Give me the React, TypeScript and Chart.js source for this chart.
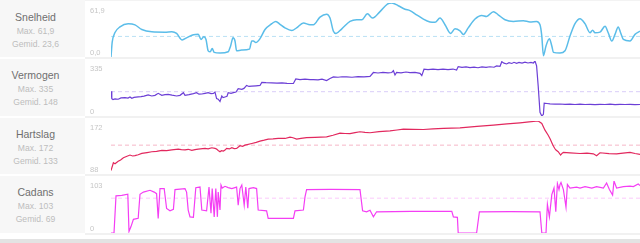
import { useEffect, useRef } from "react";
import { Chart, registerables } from "chart.js";

Chart.register(...registerables);

// time (min) / value pairs
const speedSeries: [number, number][] = [
  [0, 0], [0.3, 17], [1, 28], [2.25, 34.5], [4.3, 38], [6, 36.8], [7.7, 31.5], [10.2, 28.9], [13.5, 28.5], [15.2, 28.9],
  [16.4, 27], [17.8, 19.5], [18.9, 22], [20.6, 25.5], [21.8, 26.2], [22.5, 20], [23.2, 23.3], [23.75, 20], [24.3, 7], [24.8, 6],
  [25.3, 9.8], [25.8, 5.3], [27.25, 4.5], [29.3, 6], [29.9, 12.7], [30.5, 22], [31, 18.4], [31.4, 7.1], [32.7, 7.9], [34.6, 9],
  [35.2, 18.4], [35.6, 18.4], [36.2, 16.5], [37.25, 21], [38.5, 31.5], [40.2, 38.2], [41.2, 40.8], [42.25, 37.5], [43.5, 33.4], [45.2, 30.4],
  [46.4, 33.4], [48.1, 39], [49.75, 37], [50.6, 37], [52.25, 45.8], [53.9, 49], [54.75, 44.6], [55.6, 29.6], [56.25, 27], [57.7, 32.3],
  [59.75, 40.8], [61.4, 42.7], [62.7, 42.7], [64.1, 49.5], [65.4, 44.6], [67.25, 52], [69.1, 60.7], [70.2, 61.9], [71.8, 58.8], [73.5, 54.8],
  [74.75, 53.2], [76.4, 48.4], [78.1, 43.5], [79.75, 40.2], [81, 39.7], [82.25, 44.6], [83.5, 37], [84.9, 27], [86, 32.3], [87.25, 30],
  [88.1, 25.9], [89.3, 33.4], [91, 43.5], [92.7, 47.6], [93.9, 46.5], [95.6, 52], [96.8, 48.4], [98.5, 42.7], [100.6, 40.8], [103.1, 41.6],
  [104.75, 40.2], [106.4, 40.8], [107.25, 37], [107.7, 24], [108.1, 1.5], [108.75, 12.7], [109.6, 21], [110.2, 12.7], [110.6, 5.3], [112.25, 4.5],
  [113.5, 7.1], [114.75, 24], [116, 38.2], [117.25, 43.9], [118.5, 38.2], [119.75, 27.8], [120.4, 30.7], [121, 27.8], [122.25, 28.5], [123.5, 35.2],
  [124.3, 27.8], [125.2, 18.4], [126, 25.9], [126.8, 34.5], [127.4, 27.8], [128.1, 20.2], [129.75, 18.4], [131, 25.9], [132.25, 29.6],
];

const powerSeries: [number, number][] = [
  [0, 151], [0.2, 106], [0.5, 100], [1, 104], [1.8, 102], [2.5, 110], [3.5, 112], [4.25, 109], [4.75, 116], [5.2, 108],
  [5.75, 113], [6.8, 116], [7.5, 118], [8.25, 121], [9.3, 128], [10.2, 122], [11, 126], [11.8, 138], [12.7, 126], [13.5, 130],
  [14.3, 132], [15.25, 127], [16.4, 122], [17.25, 126], [18.1, 142], [18.5, 126], [19.5, 130], [20.6, 136], [21.4, 142], [22, 133],
  [22.7, 134], [23.5, 138], [24.3, 142], [25, 136], [25.6, 138], [26, 146], [26.4, 106], [26.8, 102], [27.25, 88], [27.7, 122],
  [28, 112], [28.5, 116], [29, 120], [29.3, 142], [30, 138], [30.6, 142], [31.25, 146], [31.8, 166], [32.7, 162], [33.25, 168],
  [33.9, 186], [34.5, 180], [35.2, 182], [36.25, 184], [37.25, 186], [37.7, 205], [38.75, 203], [40.2, 202], [41.5, 200], [42.75, 202],
  [44, 199], [45.6, 198], [46.2, 226], [47.25, 222], [48.5, 224], [49.75, 221], [50.6, 222], [51.75, 220], [52.75, 224], [53.9, 216],
  [54.75, 228], [55.6, 238], [56.75, 236], [57.75, 239], [58.9, 238], [60.25, 236], [61.75, 240], [63.25, 238], [64.75, 241], [65.6, 265],
  [66.75, 262], [68, 266], [69.25, 263], [70.2, 265], [70.6, 276], [71, 250], [71.4, 265], [72.5, 263], [73.75, 268], [74.75, 264],
  [76, 266], [77.25, 260], [77.7, 246], [78.25, 285], [79.25, 282], [80.5, 286], [81.75, 283], [83, 285], [84.25, 282], [85.5, 286],
  [86.4, 280], [86.8, 301], [87.75, 296], [88.75, 299], [89.75, 295], [90.75, 298], [91.75, 294], [92.75, 299], [93.75, 296], [94.75, 300],
  [95.75, 297], [96.4, 305], [97.25, 303], [97.7, 331], [98.25, 322], [98.9, 317], [99.5, 325], [100.2, 320], [100.75, 327], [101.4, 321],
  [102, 326], [102.75, 322], [103.5, 328], [104.25, 323], [105, 326], [105.6, 323], [106, 335], [106.4, 305], [106.8, 182], [107.25, 22],
  [107.7, 0], [108.1, 10], [108.3, 78], [109, 76], [109.75, 74], [111, 72], [112.25, 73], [113.5, 71], [114.75, 72], [116, 70],
  [117.25, 72], [118.5, 70], [119.75, 71], [121, 69], [122.25, 71], [123.5, 70], [124.75, 72], [126, 69], [127.25, 71], [128.5, 70],
  [129.75, 71], [131, 69], [132.25, 70],
];

const heartSeries: [number, number][] = [
  [0, 92], [0.6, 104.6], [1, 103], [1.8, 107], [2.4, 109], [3.1, 112.7], [4, 115], [4.75, 117], [5.4, 115.5], [6, 116],
  [6.8, 117.5], [7.7, 119.6], [9, 121], [10.2, 122.3], [11.4, 123], [12.7, 124.5], [13.9, 124], [15.2, 125.5], [16.8, 126.6], [17.6, 125.8],
  [18.5, 125.5], [19.3, 126.3], [20.2, 124.5], [21, 125.8], [21.8, 126.6], [23.5, 127.7], [24.3, 127], [25.2, 128.8], [26, 127.9], [26.4, 126.6],
  [26.8, 124.5], [27.25, 122.3], [27.6, 124], [28.1, 123.4], [28.5, 125], [28.9, 127.7], [29.6, 126.9], [30.2, 128.8], [30.8, 127.5], [31.4, 127.7],
  [32.25, 132], [32.9, 131], [33.5, 133], [35.2, 135.7], [36.3, 137.5], [37.25, 139.5], [38.3, 141], [39.3, 142.7], [40.5, 143], [41.8, 143.8],
  [43.5, 143.8], [44.75, 145.9], [45.5, 145], [46.4, 142.7], [47.5, 143.8], [48.9, 145], [51, 145.5], [53.9, 146.5], [55.5, 149], [57.25, 152.4],
  [58.5, 151.8], [59.75, 151.5], [61, 153.2], [62.25, 154.6], [63.5, 153.5], [64.75, 153], [67, 154.8], [69.75, 156.2], [71.5, 157.5], [73.1, 158.8],
  [75.5, 158.5], [78.1, 158.3], [80.5, 159.2], [83.1, 160], [87.25, 161], [91.5, 163.2], [95.6, 165.3], [99, 167.2], [102.25, 169], [104.5, 170.5],
  [106.8, 172], [107.7, 168], [108.5, 157.2], [109.3, 149], [109.8, 143], [110.4, 134], [110.9, 128], [111.25, 125], [111.8, 122.3], [112.4, 117],
  [112.8, 120], [113.1, 121.2], [114.75, 120.4], [117.25, 119.5], [119, 120], [120.6, 119], [121.4, 116], [122.25, 120.7], [124.5, 119.4], [126.4, 119],
  [128, 120.2], [129.75, 121.2], [131, 119.5], [132.25, 118],
];

const cadenceSeries: [number, number][] = [
  [0, 0], [0.75, 0], [1.25, 73.5], [2.7, 74.5], [4.2, 76.8], [4.5, 3], [5, 12.7], [5.6, 27], [6.8, 29], [7.25, 76.8],
  [8.1, 81], [9.75, 84.6], [10.8, 81], [11.4, 78], [11.8, 29], [12.25, 87.8], [13.3, 87.8], [13.9, 48.6], [14.75, 44], [15.6, 47],
  [16, 86], [18.5, 87.8], [18.9, 81], [19.3, 45.5], [19.75, 32], [20.6, 31], [21.2, 89.8], [22.25, 91], [22.7, 45.5], [23.9, 44],
  [24.5, 91], [25, 39], [25.3, 88], [25.8, 32], [26.2, 88], [26.6, 32], [26.8, 81], [27.25, 45.5], [27.5, 95], [27.8, 89],
  [28.5, 92.5], [29.3, 90], [30.2, 88], [31.4, 91], [31.8, 55], [32.25, 88], [32.7, 95], [33.3, 55], [33.7, 91], [34.2, 49],
  [34.5, 88], [35.6, 89.8], [36.4, 88], [36.8, 45.5], [38.9, 44], [39.3, 29], [45.6, 29], [46, 44], [48.1, 45.5], [48.5, 71.6],
  [48.9, 86], [55, 86.5], [62.25, 86], [62.9, 44], [63.9, 42], [64.75, 45], [65.6, 32], [66.4, 42], [75, 43], [85.2, 43],
  [85.6, 32], [86.6, 31], [86.8, 0], [91.4, 0], [92.1, 42], [100, 42.5], [107.25, 42], [107.7, 0], [108.75, 0], [109.1, 57],
  [109.6, 32], [110.2, 76], [110.75, 89], [111.2, 42], [111.6, 98], [112, 86], [112.25, 96], [112.5, 100], [113.1, 86], [113.75, 51],
  [114.1, 96], [114.75, 89], [116.4, 91], [117.25, 89], [118.5, 92], [120.2, 89], [121.4, 92], [123.1, 89], [123.9, 99], [124.6, 86],
  [125.4, 75], [125.75, 103], [126.4, 89], [128.1, 92], [129.75, 93], [130.6, 92], [131.8, 97], [132.25, 94],
];

const panelTitles = ["Snelheid", "Vermogen", "Hartslag", "Cadans"];
const maxLabels = ["Max. 61,9", "Max. 335", "Max. 172", "Max. 103"];
const avgLabels = ["Gemid. 23,6", "Gemid. 148", "Gemid. 133", "Gemid. 69"];
const speedTicks = ["61,9", "0,0"];
const powerTicks = ["335", "0"];
const heartTicks = ["172", "88"];
const cadenceTicks = ["103", "0"];
const averages = [23.6, 148, 133, 69];
const axisMin = [0, 0, 88, 0];
const axisMax = [61.9, 335, 172, 103];
const timeEnd = 132.25;

type PanelSpec = {
  series: [number, number][];
  ticks: string[];
  avg: number;
  min: number;
  max: number;
  color: string;
  avgColor: string;
  height: number;
  padTop: number;
  padBottom: number;
  smooth: boolean;
  width: number;
};

function Panel({ spec }: { spec: PanelSpec }) {
  const ref = useRef<HTMLCanvasElement | null>(null);
  useEffect(() => {
    if (!ref.current) return;
    const tickPlugin = {
      id: "edgeTicks",
      afterDraw(chart: any) {
        const ctx = chart.ctx;
        ctx.save();
        ctx.font = "7.5px Arial, 'Liberation Sans', sans-serif";
        ctx.fillStyle = "#c6c6c6";
        ctx.textAlign = "left";
        ctx.textBaseline = "middle";
        ctx.fillText(spec.ticks[0], 5, 11);
        ctx.fillText(spec.ticks[1], 5, chart.height - 5);
        ctx.restore();
      },
    };
    const chart = new Chart(ref.current, {
      type: "line",
      data: {
        datasets: [
          {
            data: spec.series.map(([x, y]) => ({ x, y })),
            borderColor: spec.color,
            borderWidth: spec.smooth ? 1.5 : 1.2,
            pointRadius: 0,
            tension: spec.smooth ? 0.4 : 0,
            cubicInterpolationMode: spec.smooth ? "monotone" : "default",
            fill: false,
            order: 0,
          },
          {
            data: [
              { x: 0, y: spec.avg },
              { x: timeEnd, y: spec.avg },
            ],
            borderColor: spec.avgColor,
            borderWidth: 1,
            borderDash: [4, 3],
            pointRadius: 0,
            fill: false,
            order: 1,
          },
        ],
      },
      options: {
        animation: false,
        responsive: false,
        maintainAspectRatio: false,
        events: [],
        layout: { padding: { left: 26, right: 0, top: spec.padTop, bottom: spec.padBottom } },
        scales: {
          x: { type: "linear", min: 0, max: timeEnd, display: false },
          y: { type: "linear", min: spec.min, max: spec.max, display: false },
        },
        plugins: { legend: { display: false }, tooltip: { enabled: false } },
      } as any,
      plugins: [tickPlugin],
    });
    return () => chart.destroy();
  }, [spec]);
  return (
    <canvas
      ref={ref}
      width={spec.width}
      height={spec.height}
      style={{ position: "absolute", left: 85, top: 0, width: spec.width, height: spec.height }}
    />
  );
}

const rowHeights = [58, 59, 58, 59];
const specs: PanelSpec[] = [
  { series: speedSeries, ticks: speedTicks, avg: averages[0], min: axisMin[0], max: axisMax[0], color: "#5bbde9", avgColor: "#b9e1f5", height: 58, padTop: 3, padBottom: 1, smooth: true, width: 555 },
  { series: powerSeries, ticks: powerTicks, avg: averages[1], min: axisMin[1], max: axisMax[1], color: "#6c3fd6", avgColor: "#d9cdf8", height: 59, padTop: 3, padBottom: 1, smooth: false, width: 555 },
  { series: heartSeries, ticks: heartTicks, avg: averages[2], min: axisMin[2], max: axisMax[2], color: "#e2285e", avgColor: "#f6b7c8", height: 58, padTop: 4, padBottom: 2, smooth: false, width: 555 },
  { series: cadenceSeries, ticks: cadenceTicks, avg: averages[3], min: axisMin[3], max: axisMax[3], color: "#f43ef4", avgColor: "#fbc9fb", height: 59, padTop: 6, padBottom: 1, smooth: false, width: 555 },
];

export default function App() {
  let top = 0;
  const rows = specs.map((spec, i) => {
    const rowTop = top;
    top += rowHeights[i];
    const h = rowHeights[i];
    return (
      <div key={i} style={{ position: "absolute", left: 0, top: rowTop, width: 640, height: h }}>
        <div
          style={{
            position: "absolute",
            left: 0,
            top: i === 0 ? 0 : 1,
            width: 85,
            height: i === 0 ? h - 1 : h - 2,
            background: "#f7f7f7",
          }}
        />
        <div
          style={{
            position: "absolute",
            left: 0,
            top: 11,
            width: 71,
            textAlign: "center",
            fontSize: 10.5,
            lineHeight: "13px",
            color: "#6f6f6f",
          }}
        >
          {panelTitles[i]}
        </div>
        <div
          style={{
            position: "absolute",
            left: 0,
            top: 26,
            width: 71,
            textAlign: "center",
            fontSize: 8.6,
            lineHeight: "11px",
            color: "#bdbdbd",
          }}
        >
          {maxLabels[i]}
        </div>
        <div
          style={{
            position: "absolute",
            left: 0,
            top: 39,
            width: 71,
            textAlign: "center",
            fontSize: 8.6,
            lineHeight: "11px",
            color: "#bdbdbd",
          }}
        >
          {avgLabels[i]}
        </div>
        <div style={{ position: "absolute", left: 85, top: h - 1, width: 555, height: 2, background: "#f1f1f1" }} />
        {i === 0 && <div style={{ position: "absolute", left: 85, top: 0, width: 555, height: 1, background: "#f3f3f3" }} />}
        <Panel spec={spec} />
      </div>
    );
  });
  return (
    <div
      style={{
        position: "fixed",
        left: 0,
        top: 0,
        width: 640,
        height: 243,
        background: "#ffffff",
        overflow: "hidden",
        fontFamily: "Arial, 'Liberation Sans', sans-serif",
      }}
    >
      {rows}
      <div style={{ position: "absolute", left: 0, top: 239, width: 640, height: 4, background: "#e3e3e3" }} />
    </div>
  );
}
